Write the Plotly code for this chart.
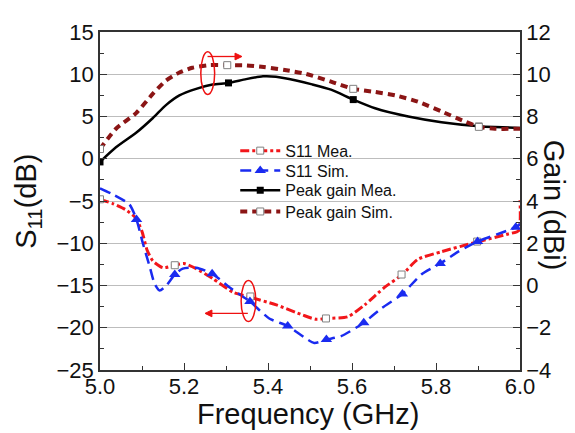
import plotly.graph_objects as go

# ---------------- data ----------------
# S11 measured (dB, left axis)
F_S11_MEA = [5.000, 5.030, 5.060, 5.085, 5.100, 5.112, 5.126, 5.150, 5.178, 5.200,
             5.229, 5.269, 5.317, 5.352, 5.420, 5.483, 5.514, 5.540, 5.590, 5.630,
             5.678, 5.720, 5.757, 5.813, 5.893, 5.972, 5.997, 6.000]
S11_MEA = [-4.8, -5.3, -6.0, -7.0, -8.6, -10.8, -12.1, -12.9, -12.6, -12.4,
           -13.0, -14.2, -15.8, -16.3, -17.3, -18.5, -19.0, -18.9, -18.7, -17.3,
           -15.2, -13.7, -11.9, -11.0, -9.9, -8.9, -8.5, -4.9]
F_S11_MEA_MK = [5.000, 5.178, 5.358, 5.538, 5.718, 5.898]
S11_MEA_MK = [-4.8, -12.6, -16.3, -18.9, -13.7, -9.8]

# S11 simulated (dB, left axis)
F_S11_SIM = [5.000, 5.030, 5.070, 5.087, 5.102, 5.118, 5.130, 5.142, 5.158, 5.178,
             5.197, 5.229, 5.267, 5.308, 5.357, 5.403, 5.447, 5.510, 5.539, 5.574,
             5.628, 5.670, 5.720, 5.765, 5.810, 5.853, 5.899, 5.948, 5.990, 6.000]
S11_SIM = [-3.5, -4.2, -5.4, -7.2, -10.0, -12.7, -14.8, -15.6, -15.0, -13.7,
           -13.0, -12.9, -13.6, -15.2, -16.9, -18.9, -19.8, -21.8, -21.4, -21.0,
           -19.4, -17.7, -16.0, -13.7, -12.4, -11.0, -9.8, -8.9, -8.1, -7.7]
F_S11_SIM_MK = [5.087, 5.178, 5.267, 5.357, 5.447, 5.539, 5.628, 5.720, 5.810, 5.899, 5.990]
S11_SIM_MK = [-7.2, -13.7, -13.6, -16.9, -19.8, -21.4, -19.4, -16.0, -12.4, -9.8, -8.1]

# Peak gain measured (dBi, right axis)
F_GAIN_MEA = [5.000, 5.038, 5.086, 5.126, 5.157, 5.189, 5.229, 5.268, 5.306, 5.348,
              5.388, 5.419, 5.467, 5.505, 5.550, 5.603, 5.655, 5.734, 5.813, 5.902,
              5.940, 6.000]
GAIN_MEA = [5.85, 6.54, 7.23, 7.93, 8.54, 9.00, 9.31, 9.51, 9.59, 9.77,
            9.90, 9.88, 9.70, 9.52, 9.27, 8.80, 8.39, 8.00, 7.73, 7.54,
            7.50, 7.46]
F_GAIN_MEA_MK = [5.000, 5.306, 5.603, 5.902]
GAIN_MEA_MK = [5.85, 9.59, 8.80, 7.54]

# Peak gain simulated (dBi, right axis)
F_GAIN_SIM = [5.000, 5.038, 5.086, 5.126, 5.157, 5.189, 5.220, 5.260, 5.303, 5.348,
              5.390, 5.440, 5.490, 5.550, 5.603, 5.655, 5.703, 5.757, 5.813, 5.868,
              5.902, 5.940, 6.000]
GAIN_SIM = [6.46, 7.42, 8.16, 9.08, 9.70, 10.08, 10.31, 10.43, 10.43, 10.42,
            10.34, 10.20, 10.02, 9.65, 9.31, 9.16, 9.00, 8.70, 8.24, 7.77,
            7.51, 7.42, 7.42]
F_GAIN_SIM_MK = [5.000, 5.303, 5.603, 5.902]
GAIN_SIM_MK = [6.46, 10.43, 9.31, 7.51]

NAMES = ["S11 Mea.", "S11 Sim.", "Peak gain Mea.", "Peak gain Sim."]

# ---------------- styles ----------------
FONT = "Arial, Liberation Sans, sans-serif"
RED = "#f2161a"
BLUE = "#1a2bf0"
BLACK = "#000000"
DRED = "#8b1515"
AX = "#333333"
ANN = "#ee1111"

styles = [
    dict(line=dict(color=RED, width=3, dash="9px,3px,3px,3px"),
         marker=dict(symbol="square", size=7, color="white", line=dict(color="#808080", width=1))),
    dict(line=dict(color=BLUE, width=2.5, dash="11px,6px"),
         marker=dict(symbol="triangle-up", size=10, color=BLUE, line=dict(width=0))),
    dict(line=dict(color=BLACK, width=2.5),
         marker=dict(symbol="square", size=7, color=BLACK, line=dict(width=0))),
    dict(line=dict(color=DRED, width=4, dash="7px,5px"),
         marker=dict(symbol="square", size=7, color="white", line=dict(color="#808080", width=1))),
]

series = [
    (F_S11_MEA, S11_MEA, F_S11_MEA_MK, S11_MEA_MK, "y"),
    (F_S11_SIM, S11_SIM, F_S11_SIM_MK, S11_SIM_MK, "y"),
    (F_GAIN_MEA, GAIN_MEA, F_GAIN_MEA_MK, GAIN_MEA_MK, "y2"),
    (F_GAIN_SIM, GAIN_SIM, F_GAIN_SIM_MK, GAIN_SIM_MK, "y2"),
]
legend_ids = ["legend", "legend2", "legend3", "legend4"]

fig = go.Figure()
for (fx, fy, mx, my, ax), st, name, lg in zip(series, styles, NAMES, legend_ids):
    fig.add_trace(go.Scatter(x=fx, y=fy, mode="lines", line=dict(st["line"], shape="spline", smoothing=0.6),
                             yaxis=ax, showlegend=False, hoverinfo="skip"))
    fig.add_trace(go.Scatter(x=mx, y=my, mode="markers", marker=st["marker"],
                             yaxis=ax, showlegend=False, hoverinfo="skip"))
    fig.add_trace(go.Scatter(x=[None], y=[None], mode="lines+markers", name=name,
                             line=st["line"], marker=st["marker"], yaxis=ax, legend=lg))

tickfont = dict(family=FONT, size=22, color="#111")
common = dict(ticks="inside", ticklen=7, tickwidth=1.2, tickcolor=AX,
              showline=True, linecolor=AX, linewidth=1.5, zeroline=False, tickfont=tickfont)

legend_common = dict(x=0.322, xanchor="left", yanchor="top", bgcolor="rgba(0,0,0,0)",
                     font=dict(family=FONT, size=16, color="#111"), itemwidth=40)
legend_tops = [0.699, 0.640, 0.582, 0.519]

fig.update_layout(
    width=575, height=433,
    margin=dict(l=92, r=63, t=17, b=71),
    plot_bgcolor="white", paper_bgcolor="white",
    font=dict(family=FONT, color="#111"),
    xaxis=dict(range=[5, 6], tick0=5, dtick=0.2, tickformat=".1f", mirror=True, showgrid=False,
               ticklabelstandoff=-4,
               minor=dict(dtick=0.1, ticks="inside", ticklen=4, tickcolor=AX), **common),
    yaxis=dict(range=[-25, 15], tick0=-25, dtick=5, showgrid=True, gridcolor="#bdbdbd", gridwidth=1,
               minor=dict(dtick=2.5, ticks="inside", ticklen=4, tickcolor=AX, showgrid=False), **common),
    yaxis2=dict(range=[-4, 12], tick0=-4, dtick=2, overlaying="y", side="right", showgrid=False,
                minor=dict(dtick=1, ticks="inside", ticklen=4, tickcolor=AX), **common),
    legend=dict(legend_common, y=legend_tops[0]),
    legend2=dict(legend_common, y=legend_tops[1]),
    legend3=dict(legend_common, y=legend_tops[2]),
    legend4=dict(legend_common, y=legend_tops[3]),
    showlegend=True,
)

# axis titles
fig.add_annotation(text="Frequency (GHz)", xref="paper", yref="paper", x=0.496, y=-0.13,
                   xanchor="center", yanchor="middle",
                   showarrow=False, font=dict(family=FONT, size=29, color="#111"))
fig.add_annotation(text="S<sub>11</sub>(dB)", xref="paper", yref="paper", x=-0.172, y=0.5,
                   xanchor="center", yanchor="middle",
                   showarrow=False, textangle=-90, font=dict(family=FONT, size=29, color="#111"))
fig.add_annotation(text="Gain (dBi)", xref="paper", yref="paper", x=1.08, y=0.487,
                   xanchor="center", yanchor="middle",
                   showarrow=False, textangle=90, font=dict(family=FONT, size=29, color="#111"))

# ellipses and arrows marking which axis each pair of curves uses
fig.add_shape(type="circle", xref="x", yref="y", x0=5.240, x1=5.273, y0=7.6, y1=12.65,
              line=dict(color=ANN, width=1.5))
fig.add_shape(type="line", xref="x", yref="y", x0=5.256, x1=5.326, y0=12.1, y1=12.1,
              line=dict(color=ANN, width=1.3))
fig.add_shape(type="path", xref="x", yref="y", path="M 5.338,12.1 L 5.3215,12.5 L 5.3215,11.7 Z",
              fillcolor=ANN, line=dict(color=ANN, width=1))

fig.add_shape(type="circle", xref="x", yref="y", x0=5.336, x1=5.371, y0=-19.25, y1=-14.4,
              line=dict(color=ANN, width=1.5))
fig.add_shape(type="line", xref="x", yref="y", x0=5.264, x1=5.352, y0=-18.3, y1=-18.3,
              line=dict(color=ANN, width=1.3))
fig.add_shape(type="path", xref="x", yref="y", path="M 5.250,-18.3 L 5.2665,-17.9 L 5.2665,-18.7 Z",
              fillcolor=ANN, line=dict(color=ANN, width=1))

fig.write_html("out.html")
